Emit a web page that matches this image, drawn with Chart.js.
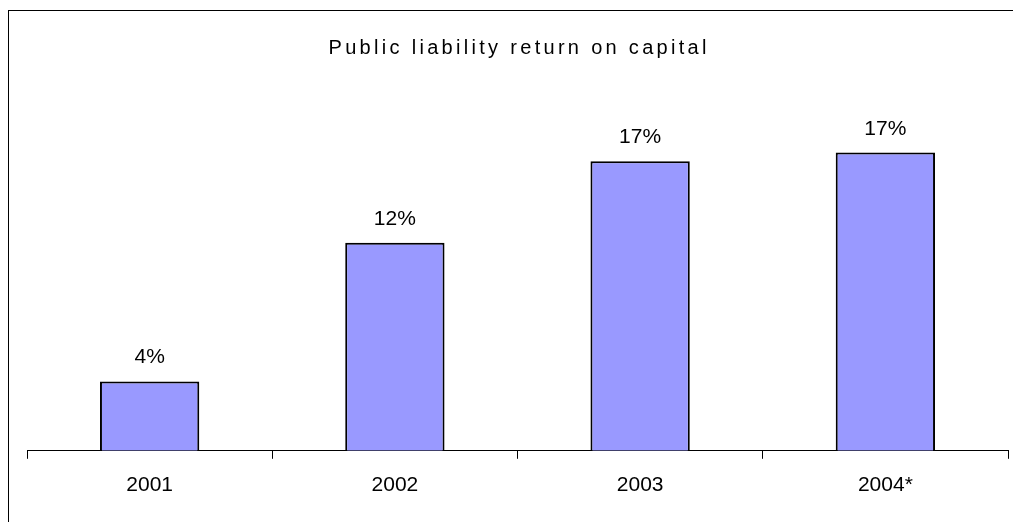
<!DOCTYPE html>
<html>
<head>
<meta charset="utf-8">
<script src="https://cdn.jsdelivr.net/npm/chart.js@4/dist/chart.umd.min.js"></script>
<style>
  html, body { margin: 0; padding: 0; background: #fff; overflow: hidden; }
  #frame { position: absolute; left: 8px; top: 10px; width: 1100px; height: 600px; border: 1px solid #000; }
  #wrap { position: absolute; left: 0; top: 0; width: 1013px; height: 522px; }
</style>
</head>
<body>
<div id="frame"></div>
<div id="wrap"><canvas id="chart" width="1013" height="522"></canvas></div>
<script>
const TITLE = "Public liability return on capital";
const YEARS = ["2001", "2002", "2003", "2004*"];
const RETURN_ON_CAPITAL = [4.0, 12.0, 16.7, 17.2];

// title with wide letter spacing, like the original
const spacedTitle = {
  id: "spacedTitle",
  afterDraw(chart) {
    const ctx = chart.ctx;
    const area = chart.chartArea;
    ctx.save();
    ctx.font = "20px 'Liberation Sans', Arial, sans-serif";
    ctx.fillStyle = "#000";
    ctx.letterSpacing = "3.3px";
    ctx.textBaseline = "alphabetic";
    ctx.textAlign = "left";
    const w = ctx.measureText(TITLE).width - 3.3;
    ctx.fillText(TITLE, (area.left + area.right) / 2 - w / 2, 54);
    ctx.restore();
  }
};

// value labels above the bars
const barLabels = {
  id: "barLabels",
  afterDatasetsDraw(chart) {
    const ctx = chart.ctx;
    const meta = chart.getDatasetMeta(0);
    ctx.save();
    ctx.font = "21px 'Liberation Sans', Arial, sans-serif";
    ctx.fillStyle = "#000";
    ctx.textAlign = "center";
    ctx.textBaseline = "alphabetic";
    meta.data.forEach((bar, i) => {
      ctx.fillText(Math.round(RETURN_ON_CAPITAL[i]) + "%", bar.x, bar.y - 18);
    });
    ctx.restore();
  }
};

new Chart(document.getElementById("chart"), {
  type: "bar",
  data: {
    labels: YEARS,
    datasets: [{
      data: RETURN_ON_CAPITAL,
      backgroundColor: "#9999FF",
      borderColor: "#000",
      borderWidth: 2,
      barPercentage: 0.405,
      categoryPercentage: 1.0
    }]
  },
  options: {
    responsive: false,
    animation: false,
    maintainAspectRatio: false,
    layout: { padding: { top: 104, left: 27, right: 5, bottom: 10 } },
    plugins: {
      legend: { display: false },
      title: { display: false },
      tooltip: { enabled: false }
    },
    scales: {
      x: {
        offset: true,
        grid: {
          display: true,
          offset: true,
          drawOnChartArea: false,
          drawTicks: true,
          tickLength: 8,
          color: "#000",
          lineWidth: 1
        },
        border: { display: true, color: "#000", width: 1 },
        ticks: {
          color: "#000",
          padding: 14,
          font: { family: "'Liberation Sans', Arial, sans-serif", size: 21 }
        }
      },
      y: {
        display: false,
        min: 0,
        max: 20
      }
    }
  },
  plugins: [spacedTitle, barLabels]
});
</script>
</body>
</html>
